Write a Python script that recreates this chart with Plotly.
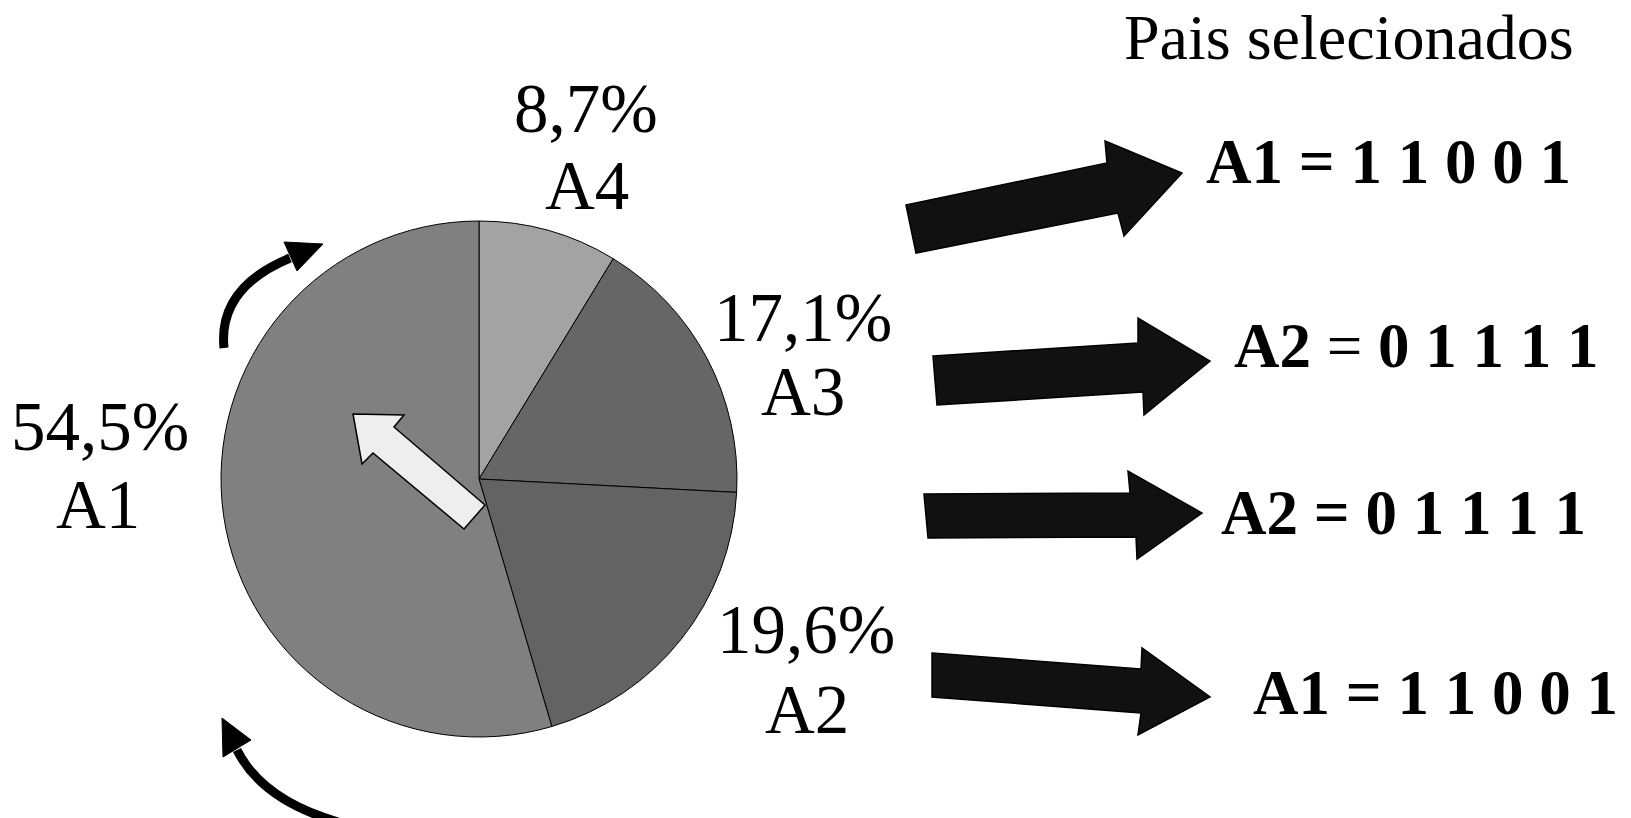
import plotly.graph_objects as go

# ---------------- data ----------------
slice_labels = ["A4", "A3", "A2", "A1"]
slice_values = [8.7, 17.1, 19.6, 54.5]
slice_pct_text = ["8,7%", "17,1%", "19,6%", "54,5%"]
slice_colors = ["#a3a3a3", "#666666", "#636363", "#808080"]

title_text = "Pais selecionados"
selected_names = ["A1", "A2", "A2", "A1"]
selected_codes = ["1 1 0 0 1", "0 1 1 1 1", "0 1 1 1 1", "1 1 0 0 1"]

# ---------------- layout helpers ----------------
W, H = 1631, 818


def px(x):
    return x / W


def py(y):
    return 1 - y / H


def path(points, close=True):
    s = "M " + " L ".join(f"{px(x):.5f},{py(y):.5f}" for x, y in points)
    return s + (" Z" if close else "")


fig = go.Figure()

# pie
cx, cy, r = 479, 479, 258
fig.add_trace(go.Pie(
    labels=slice_labels,
    values=slice_values,
    sort=False,
    direction="clockwise",
    rotation=0,
    textinfo="none",
    hoverinfo="label+percent",
    marker=dict(colors=slice_colors, line=dict(color="black", width=1)),
    domain=dict(x=[px(cx - r), px(cx + r)], y=[py(cy + r), py(cy - r)]),
    showlegend=False,
))

shapes = []

# white arrow inside the pie
white_arrow = [(353, 414), (404, 415), (394, 427), (485, 505), (464, 529),
               (373, 453), (362, 464)]
shapes.append(dict(type="path", xref="paper", yref="paper", path=path(white_arrow),
                   fillcolor="#eeeeee", line=dict(color="black", width=1.5)))

# big black arrows
big_arrows = [
    [(906, 205), (1107, 163), (1105, 141), (1182, 173), (1124, 236), (1118, 213), (916, 253)],
    [(933, 356), (1138, 343), (1138, 318), (1210, 361), (1144, 415), (1143, 392), (937, 405)],
    [(924, 494), (1130, 493), (1128, 471), (1202, 513), (1137, 559), (1136, 537), (928, 538)],
    [(932, 653), (1141, 669), (1142, 648), (1210, 697), (1138, 735), (1141, 713), (932, 697)],
]
for pts in big_arrows:
    shapes.append(dict(type="path", xref="paper", yref="paper", path=path(pts),
                       fillcolor="#111111", line=dict(color="black", width=1.5)))


# curved rotation arrows
def qpath(p0, c, p1):
    return (f"M {px(p0[0]):.5f},{py(p0[1]):.5f} Q {px(c[0]):.5f},{py(c[1]):.5f} "
            f"{px(p1[0]):.5f},{py(p1[1]):.5f}")


shapes.append(dict(type="path", xref="paper", yref="paper",
                   path=qpath((224, 348), (218, 288), (290, 258)),
                   line=dict(color="black", width=9)))
shapes.append(dict(type="path", xref="paper", yref="paper",
                   path=path([(284, 242), (323, 244), (297, 271)]),
                   fillcolor="black", line=dict(color="black", width=1)))
shapes.append(dict(type="path", xref="paper", yref="paper",
                   path=qpath((237, 750), (262, 800), (338, 822)),
                   line=dict(color="black", width=9)))
shapes.append(dict(type="path", xref="paper", yref="paper",
                   path=path([(222, 718), (251, 740), (223, 757)]),
                   fillcolor="black", line=dict(color="black", width=1)))

annotations = []
serif = "Liberation Serif, Times New Roman, serif"

# slice labels: (pct center x, pct center y, name center x, name center y)
label_pos = {
    "A4": (586, 109, 587, 186),
    "A3": (803, 318, 803, 392),
    "A2": (806, 630, 807, 710),
    "A1": (100, 427, 98, 505),
}
for lab, pct in zip(slice_labels, slice_pct_text):
    x1, y1, x2, y2 = label_pos[lab]
    annotations.append(dict(x=px(x1), y=py(y1), xref="paper", yref="paper", text=pct,
                            showarrow=False, xanchor="center", yanchor="middle",
                            font=dict(family=serif, size=69, color="black")))
    annotations.append(dict(x=px(x2), y=py(y2), xref="paper", yref="paper", text=lab,
                            showarrow=False, xanchor="center", yanchor="middle",
                            font=dict(family=serif, size=69, color="black")))

annotations.append(dict(x=px(1349), y=py(37), xref="paper", yref="paper", text=title_text,
                        showarrow=False, xanchor="center", yanchor="middle",
                        font=dict(family=serif, size=64, color="black")))

row_pos = [(1388, 162), (1416, 346), (1403, 513), (1435, 693)]
for i, (name, code) in enumerate(zip(selected_names, selected_codes)):
    if i == 1:
        txt = f"<b>{name}</b> = <b>{code}</b>"
    else:
        txt = f"<b>{name} = {code}</b>"
    x, y = row_pos[i]
    annotations.append(dict(x=px(x), y=py(y), xref="paper", yref="paper", text=txt,
                            showarrow=False, xanchor="center", yanchor="middle",
                            font=dict(family=serif, size=63, color="black")))

fig.update_layout(
    width=W, height=H, autosize=False,
    margin=dict(l=0, r=0, t=0, b=0),
    paper_bgcolor="white", plot_bgcolor="white",
    shapes=shapes, annotations=annotations,
    showlegend=False,
)

fig.write_html("out.html")
